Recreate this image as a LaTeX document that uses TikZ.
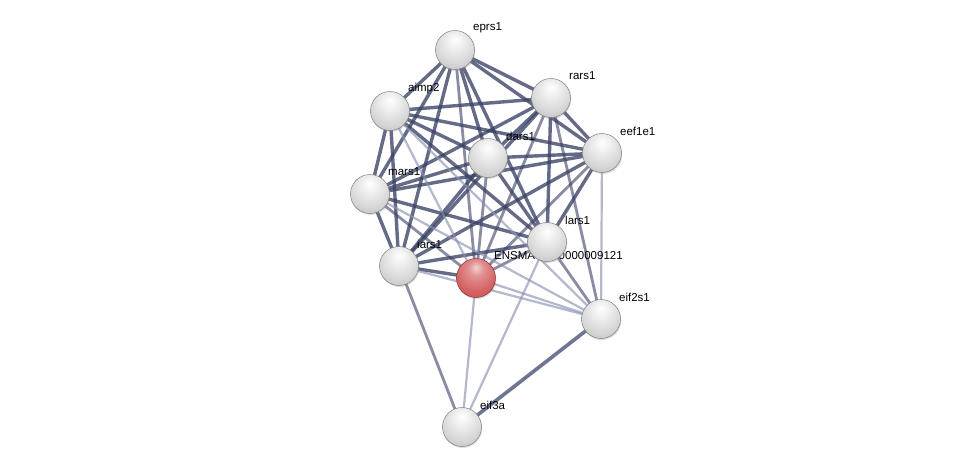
\documentclass[tikz,border=0pt]{standalone}
\usepackage{fontspec}
\setmainfont{Liberation Sans}
\usetikzlibrary{shadows}
\pgfdeclarelayer{bg}
\pgfsetlayers{bg,main}
\definecolor{edark}{RGB}{58,66,102}
\definecolor{elight}{RGB}{140,146,178}
\definecolor{rbody}{RGB}{212,98,100}
\definecolor{rrim}{RGB}{150,50,55}
\pgfdeclareradialshading{gball}{\pgfpoint{0bp}{14bp}}{color(0bp)=(white); color(10bp)=(white!94!black); color(26bp)=(white!84!black); color(40bp)=(white!74!black); color(52bp)=(white!55!black); color(70bp)=(white!45!black)}
\pgfdeclareradialshading{rball}{\pgfpoint{0bp}{14bp}}{color(0bp)=(white!70!rbody); color(10bp)=(white!30!rbody); color(26bp)=(rbody); color(40bp)=(rbody!85!black); color(52bp)=(rrim); color(70bp)=(rrim)}
\tikzset{
  prot/.style={circle, minimum size=39pt, inner sep=0pt, shading=gball, draw=white!50!black, line width=0.5pt, drop shadow={shadow xshift=0.8pt, shadow yshift=-1.5pt, opacity=0.25}},
  protred/.style={circle, minimum size=39pt, inner sep=0pt, shading=rball, draw=rrim, line width=0.5pt, drop shadow={shadow xshift=0.8pt, shadow yshift=-1.5pt, opacity=0.25}},
  lab/.style={anchor=west, inner sep=0pt, font=\fontsize{11.5}{13}\selectfont, text=black},
  ethick/.style={draw=edark, line width=3.4pt, opacity=0.78},
  emid/.style={draw=edark, line width=2.8pt, opacity=0.6},
  ethin/.style={draw=elight, line width=2.2pt, opacity=0.65},
}
\begin{document}
\begin{tikzpicture}[x=1pt,y=-1pt]
\useasboundingbox (0,0) rectangle (976,472);
% positions
\coordinate (pE) at (455,50);
\coordinate (pR) at (551,98);
\coordinate (pA) at (390,111);
\coordinate (pF) at (602,153);
\coordinate (pD) at (488,158);
\coordinate (pM) at (370,194);
\coordinate (pL) at (547,242);
\coordinate (pI) at (399,266);
\coordinate (pX) at (476,278);
\coordinate (pS) at (601,319);
\coordinate (pG) at (462,427);
% labels
\node[lab] (lE) at ([shift={(18pt,22pt)}]pE) {eprs1};
\node[lab] (lR) at ([shift={(18pt,22pt)}]pR) {rars1};
\node[lab] (lA) at ([shift={(18pt,22pt)}]pA) {aimp2};
\node[lab] (lF) at ([shift={(18pt,22pt)}]pF) {eef1e1};
\node[lab] (lD) at ([shift={(18pt,22pt)}]pD) {dars1};
\node[lab] (lM) at ([shift={(18pt,22pt)}]pM) {mars1};
\node[lab] (lL) at ([shift={(18pt,22pt)}]pL) {lars1};
\node[lab] (lI) at ([shift={(18pt,22pt)}]pI) {iars1};
\node[lab] (lX) at ([shift={(18pt,22pt)}]pX) {ENSMAUG00000009121};
\node[lab] (lS) at ([shift={(18pt,22pt)}]pS) {eif2s1};
\node[lab] (lG) at ([shift={(18pt,22pt)}]pG) {eif3a};
% nodes
\node[prot] (E) at (pE) {};
\node[prot] (R) at (pR) {};
\node[prot] (A) at (pA) {};
\node[prot] (F) at (pF) {};
\node[prot] (D) at (pD) {};
\node[prot] (M) at (pM) {};
\node[prot] (I) at (pI) {};
\node[protred] (X) at (pX) {};
\node[prot] (L) at (pL) {};
\node[prot] (S) at (pS) {};
\node[prot] (G) at (pG) {};
% edges
\begin{pgfonlayer}{bg}
\fill[white] (0,0) rectangle (976,472);
\foreach \a/\b in {E/R,E/A,E/D,E/M,E/L,E/I,E/F,R/A,R/D,R/M,R/L,R/I,R/F,A/D,A/M,A/L,A/I,A/F,D/M,D/L,D/I,D/F,M/L,M/I,M/F,L/I,L/F,I/F,X/I}
  \draw[ethick] (\a.center) -- (\b.center);
\foreach \a/\b in {X/M,X/E,X/D,X/R,X/F,X/L,S/L,S/R}
  \draw[emid] (\a.center) -- (\b.center);
\draw[ethick, line width=3.6pt, draw=elight!45!edark, opacity=0.9] (S.center) -- (G.center);
\foreach \a/\b in {X/A,X/S,X/G,S/F,S/I,S/M,S/A,G/L}
  \draw[ethin] (\a.center) -- (\b.center);
\draw[emid, opacity=0.6] (G.center) -- (I.center);
\end{pgfonlayer}
\end{tikzpicture}
\end{document}
